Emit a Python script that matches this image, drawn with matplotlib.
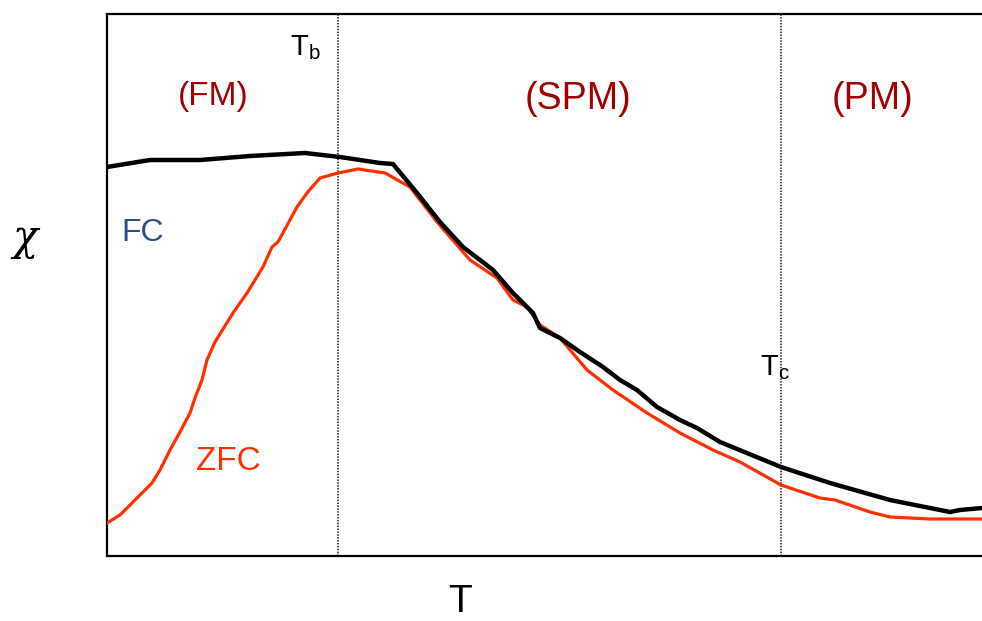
import numpy as np
import matplotlib
matplotlib.use("Agg")
import matplotlib.pyplot as plt

plt.rcParams['font.family'] = ['Liberation Sans', 'DejaVu Sans']
plt.rcParams['mathtext.fontset'] = 'custom'
plt.rcParams['mathtext.rm'] = 'Liberation Sans'
plt.rcParams['mathtext.it'] = 'Liberation Sans'

# field-cooled curve (arbitrary units, T from 0 to 875)
fc_T = [0, 43, 93, 143, 198, 233, 273, 286, 310, 333, 356, 386, 406, 426,
        433, 453, 473, 496, 513, 530, 550, 573, 590, 613, 674, 723, 783,
        843, 853, 875]
fc_chi = [389, 396, 396, 400, 403, 399, 393, 392, 363, 334, 309, 286, 263,
          243, 228, 218, 204, 189, 176, 166, 149, 136, 128, 114, 89, 73,
          56, 44, 46, 48]

# zero-field-cooled curve
zfc_T = [0, 13, 36, 45, 53, 63, 73, 83, 88, 95, 100, 108, 126, 140, 156,
         165, 171, 190, 200, 213, 231, 251, 278, 303, 330, 363, 390, 406,
         420, 433, 453, 480, 506, 540, 573, 606, 633, 674, 713, 728, 763,
         783, 823, 875]
zfc_chi = [33, 41, 64, 73, 86, 106, 124, 143, 158, 176, 196, 214, 243, 263,
           289, 309, 314, 349, 363, 378, 383, 387, 383, 369, 334, 296, 278,
           256, 249, 231, 218, 186, 166, 143, 123, 106, 94, 71, 58, 56, 44,
           39, 37, 37]

T_b = 231
T_c = 674

fig = plt.figure(figsize=(9.82, 6.21), dpi=100)
ax = fig.add_axes([107 / 982, 65 / 621, 875 / 982, 542 / 621])

ax.plot(zfc_T, zfc_chi, color='#ff3000', lw=2.3, solid_joinstyle='round',
        zorder=3)
ax.plot(fc_T, fc_chi, color='black', lw=3.2, solid_joinstyle='round',
        zorder=4)

for t in (T_b, T_c):
    ax.axvline(t, color='#333333', lw=1.3, ls=(0, (0.8, 0.8)), zorder=2)

ax.set_xlim(0, 875)
ax.set_ylim(0, 542)
ax.set_xticks([])
ax.set_yticks([])
for s in ('left', 'bottom', 'top'):
    ax.spines[s].set_linewidth(1.6)
ax.spines['right'].set_visible(False)

red = '#a00000'
ax.text(106, 459, '(FM)', color=red, fontsize=24, ha='center', va='center')
ax.text(471, 457, '(SPM)', color=red, fontsize=27, ha='center', va='center')
ax.text(766, 457, '(PM)', color=red, fontsize=27, ha='center', va='center')
ax.text(14, 323, 'FC', color='#2a4f8a', fontsize=23, ha='left',
        va='center')
ax.text(89, 94, 'ZFC', color='#ff3000', fontsize=24, ha='left',
        va='center')
ax.text(183, 508, r'T$_{\mathrm{b}}$', fontsize=21, ha='left', va='center')
ax.text(653, 188, r'T$_{\mathrm{c}}$', fontsize=21, ha='left', va='center')

fig.text(25 / 982, 1 - 238 / 621, 'χ', fontsize=30, ha='center',
         va='center', family=['DejaVu Serif'], style='italic')
fig.text(460 / 982, 1 - 620 / 621, 'T', fontsize=28, ha='center',
         va='bottom')

fig.savefig('out.png', dpi=100)
